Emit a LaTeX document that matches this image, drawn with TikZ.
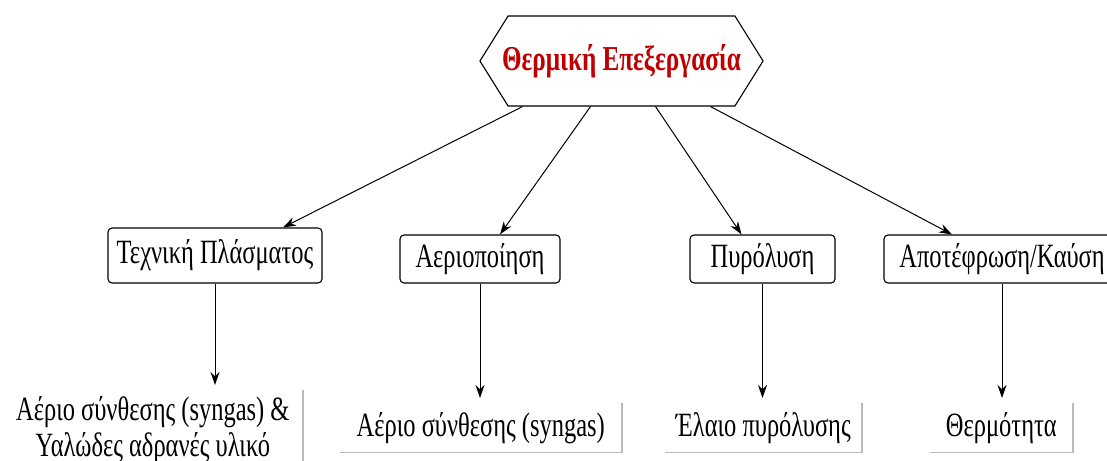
\documentclass[tikz,border=0pt]{standalone}
\usepackage{fontspec}
\setmainfont{Liberation Serif}[FakeStretch=0.72]
\usetikzlibrary{arrows.meta,calc,shapes.symbols}
\definecolor{titlered}{RGB}{192,0,0}
\definecolor{shadegrey}{RGB}{185,185,185}
\tikzset{
  heatbox/.style={shape=signal,signal to=west and east,signal pointer angle=116,
                  draw=black,line width=1.1pt,fill=white,minimum width=280pt,minimum height=90pt,
                  inner sep=0pt,inner xsep=-6pt,font=\fontsize{35}{40}\selectfont\bfseries,text=titlered},
  procbox/.style={draw=black,rounded corners=4pt,line width=1.1pt,fill=white,align=center,
                  inner sep=0pt,minimum height=48pt,font=\fontsize{34}{38}\selectfont},
  outbox/.style={align=center,inner sep=0pt,font=\fontsize{34}{36}\selectfont,anchor=north east},
  shade/.style={draw=shadegrey,line width=1.2pt},
  flow/.style={-{Stealth[length=13pt,width=9pt]},line width=1pt,draw=black},
}
\begin{document}
\begin{tikzpicture}[x=1pt,y=1pt]
  \useasboundingbox (0,0) rectangle (1107,-460);

  % ---------------- pano ----------------
  \node[heatbox] (heat) at (621.5,-61) {Θερμική Επεξεργασία};

  % ---------------- methodoi ----------------
  \node[procbox,minimum width=214pt,minimum height=55pt] (p1) at (215,-255.5) {Τεχνική Πλάσματος};
  \node[procbox,minimum width=160pt] (p2) at (480,-259) {Αεριοποίηση};
  \node[procbox,minimum width=145pt] (p3) at (762.5,-259) {Πυρόλυση};
  \node[procbox,minimum width=236pt] (p4) at (1002,-259) {Αποτέφρωση/Καύση};

  \draw[flow] ($(heat.south)+(-99,0)$) -- ($(p1.north)+(68,0)$);
  \draw[flow] ($(heat.south)+(-31,0)$) -- ($(p2.north)+(20,0)$);
  \draw[flow] ($(heat.south)+(34,0)$) -- ($(p3.north)+(-21,0)$);
  \draw[flow] ($(heat.south)+(89,0)$) -- ($(p4.north)+(-50,0)$);

  % ---------------- proionta ----------------
  \node[outbox,minimum width=300pt,minimum height=80pt] (o1) at (303,-390)
    {Αέριο σύνθεσης (syngas) \&\\Υαλώδες αδρανές υλικό};
  \node[outbox,minimum width=282pt,minimum height=49pt] (o2) at (622,-403) {Αέριο σύνθεσης (syngas)};
  \node[outbox,minimum width=197pt,minimum height=49pt] (o3) at (862,-403) {Έλαιο πυρόλυσης};
  \node[outbox,minimum width=143pt,minimum height=49pt] (o4) at (1073,-403) {Θερμότητα};

  \foreach \o in {o1,o2,o3,o4}
    \draw[shade] (\o.north east) -- (\o.south east) -- (\o.south west);

  \foreach \p/\o in {p1/o1,p2/o2,p3/o3,p4/o4}
    \draw[flow,shorten >=5pt] (\p.south) -- (\p.south |- \o.north);
\end{tikzpicture}
\end{document}
